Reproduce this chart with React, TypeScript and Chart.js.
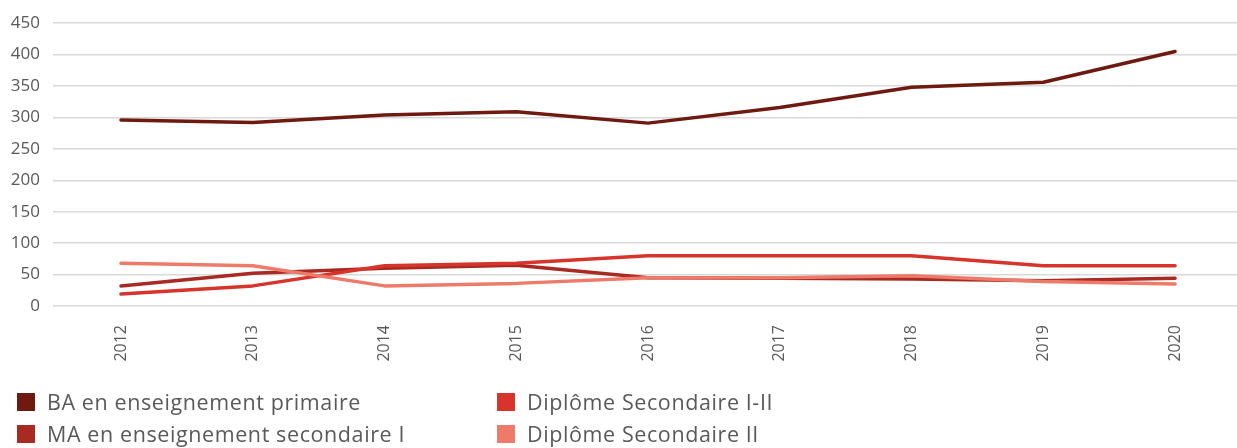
import React, { useEffect, useRef } from "react";
import { Chart, registerables } from "chart.js";

Chart.register(...registerables);

// ---- Data ----
const years = [2012, 2013, 2014, 2015, 2016, 2017, 2018, 2019, 2020];
const baPrimaire = [296, 292, 304, 309, 291, 316, 348, 356, 405];
const maSecondaireI = [32, 52, 60, 65, 45, 44, 43, 40, 44];
const diplomeSecI_II = [19, 32, 64, 68, 80, 80, 80, 64, 64];
const diplomeSecII = [68, 64, 32, 36, 45, 45, 48, 39, 35];
const yTickValues = [0, 50, 100, 150, 200, 250, 300, 350, 400, 450];

const seriesNames = [
  "BA en enseignement primaire",
  "MA en enseignement secondaire I",
  "Diplôme Secondaire I-II",
  "Diplôme Secondaire II",
];
const seriesColors = ["#6e1a10", "#a82a22", "#d7342c", "#ee7a69"];
const seriesValues = [baPrimaire, maSecondaireI, diplomeSecI_II, diplomeSecII];

const FONT = "'Open Sans', 'Noto Sans', sans-serif";
const TEXT = "#595959";

export default function App() {
  const canvasRef = useRef<HTMLCanvasElement | null>(null);

  useEffect(() => {
    if (!canvasRef.current) return;
    const datasets = seriesValues.map((vals, i) => ({
      label: seriesNames[i],
      data: vals.map((v, j) => ({ x: years[j], y: v })),
      borderColor: seriesColors[i],
      backgroundColor: seriesColors[i],
      borderWidth: 3.5,
      pointRadius: 0,
      pointHoverRadius: 0,
      tension: 0,
      fill: false,
      borderCapStyle: "round" as const,
      borderJoinStyle: "round" as const,
      order: seriesValues.length - i,
    }));

    const chart = new Chart(canvasRef.current, {
      type: "line",
      data: { datasets },
      options: {
        animation: false,
        responsive: false,
        devicePixelRatio: 1,
        layout: { padding: { top: 22, left: 0, right: 0, bottom: 82 } },
        plugins: {
          legend: { display: false },
          tooltip: { enabled: false },
        },
        scales: {
          x: {
            type: "linear",
            min: 2011.484,
            max: 2020.47,
            afterBuildTicks: (axis: any) => {
              axis.ticks = years.map((v) => ({ value: v }));
            },
            afterFit: (axis: any) => {
              axis.height = 60;
            },
            ticks: {
              autoSkip: false,
              maxRotation: 90,
              minRotation: 90,
              padding: 19,
              color: TEXT,
              font: { family: FONT, size: 16 },
              callback: (v: any) => String(v),
            },
            grid: { display: false, drawTicks: false },
            border: { display: false },
          },
          y: {
            min: 0,
            max: 450,
            afterBuildTicks: (axis: any) => {
              axis.ticks = yTickValues.map((v) => ({ value: v }));
            },
            afterFit: (axis: any) => {
              axis.width = 53;
            },
            ticks: {
              padding: 13,
              color: TEXT,
              font: { family: FONT, size: 17 },
            },
            grid: { color: "#d9d9d9", lineWidth: 1.5, drawTicks: false },
            border: { display: false },
          },
        },
      },
    });
    return () => chart.destroy();
  }, []);

  const legendOrder = [0, 1, 2, 3];

  return (
    <div style={{ position: "absolute", left: 0, top: 0, width: 1237, height: 448, background: "#fff", overflow: "hidden" }}>
      <canvas ref={canvasRef} width={1237} height={448} style={{ display: "block", width: 1237, height: 448 }} />
      <div
        style={{
          position: "absolute",
          left: 17,
          top: 386,
          display: "grid",
          gridTemplateColumns: "480px auto",
          gridTemplateRows: "32px 32px",
          gridAutoFlow: "column",
        }}
      >
        {legendOrder.map((i) => (
          <div key={i} style={{ display: "flex", alignItems: "center", height: 32 }}>
            <div style={{ width: 18, height: 18, background: seriesColors[i], marginRight: 12, flex: "none" }} />
            <span style={{ fontFamily: FONT, fontSize: 21.5, letterSpacing: "0.6px", color: TEXT, lineHeight: 1, whiteSpace: "nowrap" }}>
              {seriesNames[i]}
            </span>
          </div>
        ))}
      </div>
    </div>
  );
}
